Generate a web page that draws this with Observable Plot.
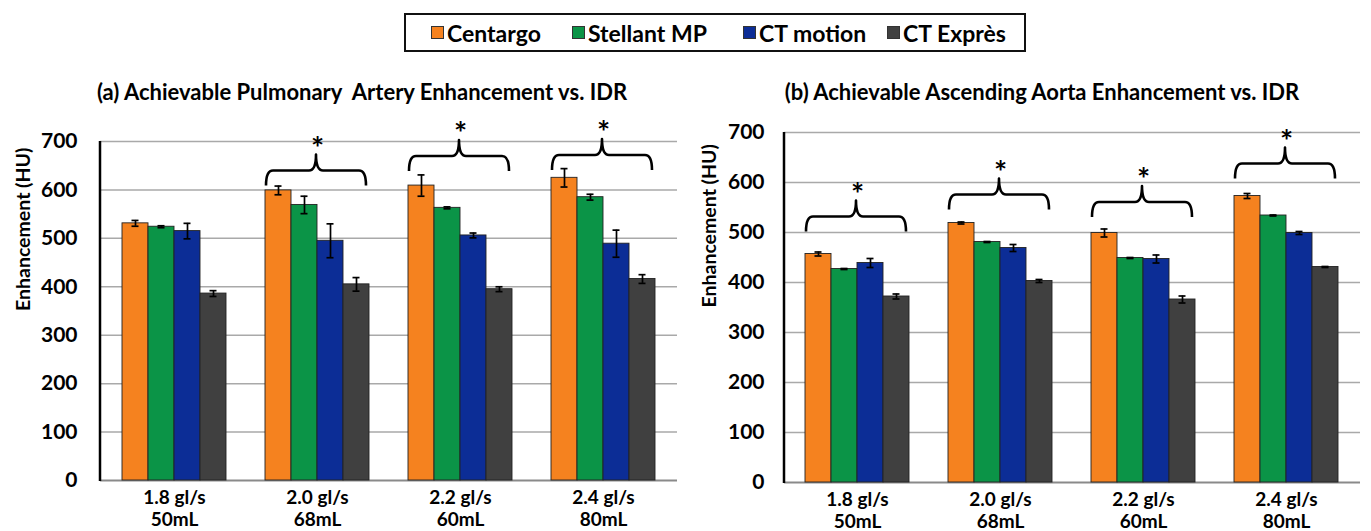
<!DOCTYPE html>
<html>
<head>
<meta charset="utf-8">
<script src="https://cdn.jsdelivr.net/npm/d3@7"></script>
<script src="https://cdn.jsdelivr.net/npm/@observablehq/plot@0.6"></script>
<style>
  html, body { margin: 0; padding: 0; background: #fff; }
  #page { position: relative; width: 1371px; height: 531px; overflow: hidden; background: #fff; font-family: "Lato", sans-serif; font-weight: 700; color: #000; }
  .title { position: absolute; width: 700px; text-align: center; font-size: 22px; line-height: 26px; white-space: pre; }
  .panel { position: absolute; }
  .panel svg { position: absolute; left: 0; top: 0; overflow: visible; }
  #legend { position: absolute; left: 404px; top: 13px; width: 622px; height: 39px; border: 2px solid #111; box-sizing: border-box; }
  .item { position: absolute; top: 0; height: 35px; display: flex; align-items: center; font-size: 23px; white-space: nowrap; }
  .sw { width: 11px; height: 11px; border: 1px solid #333; margin-right: 3px; }
</style>
</head>
<body>
<div id="page">
  <div id="legend"></div>
  <div class="title" id="titleA" style="left:12px; top:79px;"></div>
  <div class="title" id="titleB" style="left:692px; top:79px;"></div>
  <div class="panel" id="panelA" style="left:0px; top:105px; width:690px; height:426px;"></div>
  <div class="panel" id="panelB" style="left:690px; top:105px; width:681px; height:427px;"></div>
</div>
<script>
// ---------- data ----------
const series = ["Centargo", "Stellant MP", "CT motion", "CT Exprès"];
const colors = ["#f5821f", "#0b9447", "#0c2d96", "#404040"];
const groupRates = ["1.8 gl/s", "2.0 gl/s", "2.2 gl/s", "2.4 gl/s"];
const groupVolumes = ["50mL", "68mL", "60mL", "80mL"];
const yTicks = [0, 100, 200, 300, 400, 500, 600, 700];
const yTitle = "Enhancement (HU)";

const titleA = "(a) Achievable Pulmonary  Artery Enhancement vs. IDR";
// Pulmonary artery: one row per series, one value per group
const paValues = [
  [531, 599, 609, 625],
  [524, 569, 563, 585],
  [515, 495, 506, 489],
  [386, 405, 395, 416]
];
const paErrors = [
  [6, 9, 22, 19],
  [2, 18, 2, 6],
  [16, 35, 5, 28],
  [6, 14, 5, 9]
];
const paBrackets = [null, 639, 669, 671];

const titleB = "(b) Achievable Ascending Aorta Enhancement vs. IDR";
// Ascending aorta
const aaValues = [
  [457, 519, 499, 573],
  [427, 481, 449, 534],
  [439, 469, 447, 499],
  [372, 403, 366, 431]
];
const aaErrors = [
  [4, 2, 8, 5],
  [1, 1, 1, 1],
  [9, 7, 8, 3],
  [5, 3, 7, 1]
];
const aaBrackets = [531, 575, 560, 637];

// ---------- helpers ----------
const groups = groupRates.map((r, i) => r + "\n" + groupVolumes[i]);

function bracketMark(levels) {
  return (index, scales, values, dimensions) => {
    const x = scales.x, y = scales.y;
    const bw = x.bandwidth();
    const g = d3.create("svg:g").attr("fill", "none").attr("stroke", "#000")
      .attr("stroke-width", 2.6).attr("stroke-linejoin", "round");
    groups.forEach((grp, i) => {
      const lv = levels[i];
      if (lv == null) return;
      const x0 = x(grp) + 1, x1 = x(grp) + bw - 3, xc = (x0 + x1) / 2, yh = y(lv), r = 7;
      g.append("path").attr("d",
        `M${x0},${yh + 15} Q${x0},${yh} ${x0 + r},${yh} L${xc - r},${yh} Q${xc},${yh} ${xc},${yh - 16}` +
        ` Q${xc},${yh} ${xc + r},${yh} L${x1 - r},${yh} Q${x1},${yh} ${x1},${yh + 15}`);
    });
    return g.node();
  };
}

function axisLine() {
  return (index, scales, values, dimensions) => {
    const y = scales.y;
    return d3.create("svg:line")
      .attr("x1", dimensions.marginLeft).attr("x2", dimensions.marginLeft)
      .attr("y1", y(0) + 1).attr("y2", y(700))
      .attr("stroke", "#000").attr("stroke-width", 2.5).node();
  };
}

function panel(el, cfg) {
  const rows = [];
  groups.forEach((g, gi) => series.forEach((s, si) => rows.push({
    group: g, series: s, value: cfg.values[si][gi], err: cfg.errors[si][gi]
  })));
  const groupRows = groups.map((g, i) => ({group: g, level: cfg.brackets[i]}));
  const sigRows = groupRows.filter(d => d.level != null);
  const dims = {
    width: cfg.width, height: cfg.height,
    marginLeft: cfg.ml, marginRight: cfg.mr, marginTop: cfg.mt, marginBottom: cfg.mb
  };
  const fxOpts = {domain: groups, paddingInner: 0.27, paddingOuter: 0.14};

  const bg = Plot.plot({
    ...dims,
    style: {background: "transparent", fontFamily: "Lato", fontWeight: 700, color: "#000", overflow: "visible"},
    x: {type: "band", ...fxOpts, axis: null},
    y: {domain: [0, 700], axis: null},
    marks: [
      Plot.ruleY(yTicks.filter(t => t > 0), {stroke: "#a9a9a9", strokeWidth: 1.5}),
      Plot.ruleY([0], {stroke: "#8a8a8a", strokeWidth: 2}),
      axisLine(),
      Plot.text(yTicks, {y: d => d, text: d => String(d), frameAnchor: "left", textAnchor: "end", dx: -cfg.tickPad, fontSize: 21, fill: "#000"}),
      Plot.text(groupRows, {x: "group", y: 0, text: "group", lineAnchor: "top", dy: 8, fontSize: 19, lineHeight: 1.15, fill: "#000"}),
      Plot.text([yTitle], {frameAnchor: "left", rotate: -90, dx: cfg.titleDx, fontSize: 19.5, fill: "#000"}),
      bracketMark(cfg.brackets),
      Plot.text(sigRows, {x: "group", y: "level", text: () => "*", dy: -22, fontSize: 31, fill: "#000"})
    ]
  });

  const fg = Plot.plot({
    ...dims,
    style: {background: "transparent", overflow: "visible"},
    facet: {data: rows, x: "group"},
    fx: {...fxOpts, axis: null, label: null},
    x: {domain: series, padding: 0, axis: null},
    y: {domain: [0, 700], axis: null},
    color: {domain: series, range: colors},
    marks: [
      Plot.barY(rows, {x: "series", y: "value", fill: "series", stroke: "#222", strokeWidth: 0.9}),
      Plot.ruleX(rows, {x: "series", y1: d => d.value - d.err, y2: d => d.value + d.err, stroke: "#000", strokeWidth: 1.7}),
      Plot.tickY(rows, {x: "series", y: d => d.value - d.err, insetLeft: 9.5, insetRight: 9.5, stroke: "#000", strokeWidth: 1.7}),
      Plot.tickY(rows, {x: "series", y: d => d.value + d.err, insetLeft: 9.5, insetRight: 9.5, stroke: "#000", strokeWidth: 1.7})
    ]
  });
  el.appendChild(bg);
  el.appendChild(fg);
}

// ---------- legend & titles ----------
const legend = document.getElementById("legend");
const legendOffsets = [25, 166, 337, 481];
series.forEach((s, i) => {
  const it = document.createElement("div");
  it.className = "item";
  it.style.left = legendOffsets[i] + "px";
  const sw = document.createElement("div");
  sw.className = "sw";
  sw.style.background = colors[i];
  const tx = document.createElement("span");
  tx.textContent = s;
  it.appendChild(sw); it.appendChild(tx);
  legend.appendChild(it);
});
document.getElementById("titleA").textContent = titleA;
document.getElementById("titleB").textContent = titleB;

panel(document.getElementById("panelA"), {
  values: paValues, errors: paErrors, brackets: paBrackets,
  width: 690, height: 426, ml: 100, mr: 13, mt: 36, mb: 51, tickPad: 23, titleDx: -77
});
panel(document.getElementById("panelB"), {
  values: aaValues, errors: aaErrors, brackets: aaBrackets,
  width: 681, height: 427, ml: 94, mr: 11, mt: 27, mb: 50, tickPad: 20, titleDx: -75
});
</script>
</body>
</html>
